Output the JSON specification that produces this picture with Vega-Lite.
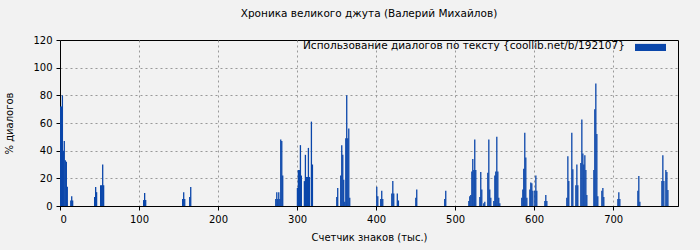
{
  "$schema": "https://vega.github.io/schema/vega-lite/v6.json",
  "autosize": "none",
  "width": 618,
  "height": 166,
  "padding": {"left": 60, "top": 40, "right": 22, "bottom": 44},
  "background": "#f2f2f2",
  "title": {"text": "Хроника великого джута (Валерий Михайлов)", "font": "DejaVu Sans", "fontSize": 10.5, "fontWeight": "normal", "color": "#000000", "offset": 16},
  "config": {
    "view": {"stroke": "#000000", "strokeWidth": 1, "fill": "#f2f2f2"},
    "axis": {"labelFont": "DejaVu Sans", "titleFont": "DejaVu Sans", "labelFontSize": 10, "titleFontSize": 10, "titleFontWeight": "normal", "labelColor": "#000000", "titleColor": "#000000", "domainColor": "#000000", "tickColor": "#000000", "gridColor": "#999999", "gridDash": [2, 3], "gridOpacity": 1}
  },
  "data": {"values": [
    {"k": 0, "p": 72, "s": "Использование диалогов по тексту {coollib.net/b/192107}"},
    {"k": 1, "p": 72, "s": "Использование диалогов по тексту {coollib.net/b/192107}"},
    {"k": 2.2, "p": 80, "s": "Использование диалогов по тексту {coollib.net/b/192107}"},
    {"k": 3.4, "p": 40, "s": "Использование диалогов по тексту {coollib.net/b/192107}"},
    {"k": 4.6, "p": 47, "s": "Использование диалогов по тексту {coollib.net/b/192107}"},
    {"k": 5.9, "p": 33, "s": "Использование диалогов по тексту {coollib.net/b/192107}"},
    {"k": 7.2, "p": 32, "s": "Использование диалогов по тексту {coollib.net/b/192107}"},
    {"k": 8.4, "p": 14, "s": "Использование диалогов по тексту {coollib.net/b/192107}"},
    {"k": 12.8, "p": 4, "s": "Использование диалогов по тексту {coollib.net/b/192107}"},
    {"k": 14, "p": 7, "s": "Использование диалогов по тексту {coollib.net/b/192107}"},
    {"k": 15.2, "p": 4, "s": "Использование диалогов по тексту {coollib.net/b/192107}"},
    {"k": 43, "p": 6.5, "s": "Использование диалогов по тексту {coollib.net/b/192107}"},
    {"k": 44.3, "p": 13.7, "s": "Использование диалогов по тексту {coollib.net/b/192107}"},
    {"k": 45.5, "p": 10, "s": "Использование диалогов по тексту {coollib.net/b/192107}"},
    {"k": 50.6, "p": 15, "s": "Использование диалогов по тексту {coollib.net/b/192107}"},
    {"k": 51.9, "p": 15, "s": "Использование диалогов по тексту {coollib.net/b/192107}"},
    {"k": 53.2, "p": 30, "s": "Использование диалогов по тексту {coollib.net/b/192107}"},
    {"k": 54.4, "p": 15, "s": "Использование диалогов по тексту {coollib.net/b/192107}"},
    {"k": 105, "p": 4.3, "s": "Использование диалогов по тексту {coollib.net/b/192107}"},
    {"k": 106.3, "p": 9.4, "s": "Использование диалогов по тексту {coollib.net/b/192107}"},
    {"k": 107.6, "p": 4.3, "s": "Использование диалогов по тексту {coollib.net/b/192107}"},
    {"k": 154.4, "p": 5, "s": "Использование диалогов по тексту {coollib.net/b/192107}"},
    {"k": 155.7, "p": 10, "s": "Использование диалогов по тексту {coollib.net/b/192107}"},
    {"k": 157, "p": 5, "s": "Использование диалогов по тексту {coollib.net/b/192107}"},
    {"k": 163.3, "p": 6.5, "s": "Использование диалогов по тексту {coollib.net/b/192107}"},
    {"k": 164.6, "p": 13.7, "s": "Использование диалогов по тексту {coollib.net/b/192107}"},
    {"k": 272.2, "p": 5, "s": "Использование диалогов по тексту {coollib.net/b/192107}"},
    {"k": 273.5, "p": 10, "s": "Использование диалогов по тексту {coollib.net/b/192107}"},
    {"k": 274.7, "p": 5, "s": "Использование диалогов по тексту {coollib.net/b/192107}"},
    {"k": 276, "p": 10, "s": "Использование диалогов по тексту {coollib.net/b/192107}"},
    {"k": 277.3, "p": 5, "s": "Использование диалогов по тексту {coollib.net/b/192107}"},
    {"k": 278.5, "p": 48, "s": "Использование диалогов по тексту {coollib.net/b/192107}"},
    {"k": 279.8, "p": 47, "s": "Использование диалогов по тексту {coollib.net/b/192107}"},
    {"k": 281, "p": 22, "s": "Использование диалогов по тексту {coollib.net/b/192107}"},
    {"k": 299.6, "p": 13, "s": "Использование диалогов по тексту {coollib.net/b/192107}"},
    {"k": 300.8, "p": 26, "s": "Использование диалогов по тексту {coollib.net/b/192107}"},
    {"k": 302.1, "p": 26, "s": "Использование диалогов по тексту {coollib.net/b/192107}"},
    {"k": 303.4, "p": 44, "s": "Использование диалогов по тексту {coollib.net/b/192107}"},
    {"k": 304.6, "p": 22, "s": "Использование диалогов по тексту {coollib.net/b/192107}"},
    {"k": 308.4, "p": 18, "s": "Использование диалогов по тексту {coollib.net/b/192107}"},
    {"k": 309.7, "p": 37, "s": "Использование диалогов по тексту {coollib.net/b/192107}"},
    {"k": 311, "p": 21, "s": "Использование диалогов по тексту {coollib.net/b/192107}"},
    {"k": 312.2, "p": 21, "s": "Использование диалогов по тексту {coollib.net/b/192107}"},
    {"k": 313.5, "p": 42, "s": "Использование диалогов по тексту {coollib.net/b/192107}"},
    {"k": 314.8, "p": 21, "s": "Использование диалогов по тексту {coollib.net/b/192107}"},
    {"k": 317.3, "p": 61, "s": "Использование диалогов по тексту {coollib.net/b/192107}"},
    {"k": 318.6, "p": 30, "s": "Использование диалогов по тексту {coollib.net/b/192107}"},
    {"k": 349.4, "p": 6.5, "s": "Использование диалогов по тексту {coollib.net/b/192107}"},
    {"k": 350.6, "p": 13, "s": "Использование диалогов по тексту {coollib.net/b/192107}"},
    {"k": 354.4, "p": 22, "s": "Использование диалогов по тексту {coollib.net/b/192107}"},
    {"k": 355.7, "p": 44, "s": "Использование диалогов по тексту {coollib.net/b/192107}"},
    {"k": 357, "p": 37, "s": "Использование диалогов по тексту {coollib.net/b/192107}"},
    {"k": 358.2, "p": 19, "s": "Использование диалогов по тексту {coollib.net/b/192107}"},
    {"k": 359.5, "p": 3, "s": "Использование диалогов по тексту {coollib.net/b/192107}"},
    {"k": 360.8, "p": 49, "s": "Использование диалогов по тексту {coollib.net/b/192107}"},
    {"k": 362, "p": 80, "s": "Использование диалогов по тексту {coollib.net/b/192107}"},
    {"k": 363.3, "p": 49, "s": "Использование диалогов по тексту {coollib.net/b/192107}"},
    {"k": 364.6, "p": 56, "s": "Использование диалогов по тексту {coollib.net/b/192107}"},
    {"k": 365.8, "p": 6, "s": "Использование диалогов по тексту {coollib.net/b/192107}"},
    {"k": 400, "p": 14, "s": "Использование диалогов по тексту {coollib.net/b/192107}"},
    {"k": 401.3, "p": 7, "s": "Использование диалогов по тексту {coollib.net/b/192107}"},
    {"k": 405, "p": 5, "s": "Использование диалогов по тексту {coollib.net/b/192107}"},
    {"k": 406.3, "p": 11, "s": "Использование диалогов по тексту {coollib.net/b/192107}"},
    {"k": 407.6, "p": 5, "s": "Использование диалогов по тексту {coollib.net/b/192107}"},
    {"k": 419, "p": 9, "s": "Использование диалогов по тексту {coollib.net/b/192107}"},
    {"k": 420.3, "p": 18, "s": "Использование диалогов по тексту {coollib.net/b/192107}"},
    {"k": 421.5, "p": 9, "s": "Использование диалогов по тексту {coollib.net/b/192107}"},
    {"k": 426, "p": 9, "s": "Использование диалогов по тексту {coollib.net/b/192107}"},
    {"k": 427.4, "p": 4, "s": "Использование диалогов по тексту {coollib.net/b/192107}"},
    {"k": 449.4, "p": 6, "s": "Использование диалогов по тексту {coollib.net/b/192107}"},
    {"k": 450.6, "p": 12, "s": "Использование диалогов по тексту {coollib.net/b/192107}"},
    {"k": 486, "p": 5, "s": "Использование диалогов по тексту {coollib.net/b/192107}"},
    {"k": 487.3, "p": 11, "s": "Использование диалогов по тексту {coollib.net/b/192107}"},
    {"k": 516.5, "p": 3.6, "s": "Использование диалогов по тексту {coollib.net/b/192107}"},
    {"k": 517.7, "p": 7, "s": "Использование диалогов по тексту {coollib.net/b/192107}"},
    {"k": 519, "p": 8, "s": "Использование диалогов по тексту {coollib.net/b/192107}"},
    {"k": 520.3, "p": 25, "s": "Использование диалогов по тексту {coollib.net/b/192107}"},
    {"k": 521.5, "p": 34, "s": "Использование диалогов по тексту {coollib.net/b/192107}"},
    {"k": 522.8, "p": 26, "s": "Использование диалогов по тексту {coollib.net/b/192107}"},
    {"k": 524, "p": 48, "s": "Использование диалогов по тексту {coollib.net/b/192107}"},
    {"k": 525.3, "p": 26, "s": "Использование диалогов по тексту {coollib.net/b/192107}"},
    {"k": 530.4, "p": 6.5, "s": "Использование диалогов по тексту {coollib.net/b/192107}"},
    {"k": 531.6, "p": 24.5, "s": "Использование диалогов по тексту {coollib.net/b/192107}"},
    {"k": 532.9, "p": 12, "s": "Использование диалогов по тексту {coollib.net/b/192107}"},
    {"k": 535.4, "p": 2, "s": "Использование диалогов по тексту {coollib.net/b/192107}"},
    {"k": 536.7, "p": 3, "s": "Использование диалогов по тексту {coollib.net/b/192107}"},
    {"k": 540.5, "p": 24, "s": "Использование диалогов по тексту {coollib.net/b/192107}"},
    {"k": 541.8, "p": 48, "s": "Использование диалогов по тексту {coollib.net/b/192107}"},
    {"k": 543, "p": 12, "s": "Использование диалогов по тексту {coollib.net/b/192107}"},
    {"k": 544.3, "p": 6, "s": "Использование диалогов по тексту {coollib.net/b/192107}"},
    {"k": 548.1, "p": 3.6, "s": "Использование диалогов по тексту {coollib.net/b/192107}"},
    {"k": 549.4, "p": 22, "s": "Использование диалогов по тексту {coollib.net/b/192107}"},
    {"k": 550.6, "p": 25, "s": "Использование диалогов по тексту {coollib.net/b/192107}"},
    {"k": 551.9, "p": 50, "s": "Использование диалогов по тексту {coollib.net/b/192107}"},
    {"k": 553.2, "p": 25, "s": "Использование диалогов по тексту {coollib.net/b/192107}"},
    {"k": 554.4, "p": 6, "s": "Использование диалогов по тексту {coollib.net/b/192107}"},
    {"k": 555.7, "p": 2, "s": "Использование диалогов по тексту {coollib.net/b/192107}"},
    {"k": 583.5, "p": 6, "s": "Использование диалогов по тексту {coollib.net/b/192107}"},
    {"k": 584.8, "p": 12, "s": "Использование диалогов по тексту {coollib.net/b/192107}"},
    {"k": 586, "p": 27, "s": "Использование диалогов по тексту {coollib.net/b/192107}"},
    {"k": 587.3, "p": 53, "s": "Использование диалогов по тексту {coollib.net/b/192107}"},
    {"k": 588.6, "p": 35, "s": "Использование диалогов по тексту {coollib.net/b/192107}"},
    {"k": 589.9, "p": 6, "s": "Использование диалогов по тексту {coollib.net/b/192107}"},
    {"k": 593.7, "p": 12, "s": "Использование диалогов по тексту {coollib.net/b/192107}"},
    {"k": 594.9, "p": 17, "s": "Использование диалогов по тексту {coollib.net/b/192107}"},
    {"k": 596.2, "p": 16.5, "s": "Использование диалогов по тексту {coollib.net/b/192107}"},
    {"k": 597.5, "p": 11, "s": "Использование диалогов по тексту {coollib.net/b/192107}"},
    {"k": 600, "p": 11, "s": "Использование диалогов по тексту {coollib.net/b/192107}"},
    {"k": 601.3, "p": 22, "s": "Использование диалогов по тексту {coollib.net/b/192107}"},
    {"k": 602.5, "p": 11, "s": "Использование диалогов по тексту {coollib.net/b/192107}"},
    {"k": 612.7, "p": 3.6, "s": "Использование диалогов по тексту {coollib.net/b/192107}"},
    {"k": 613.9, "p": 8, "s": "Использование диалогов по тексту {coollib.net/b/192107}"},
    {"k": 615.2, "p": 3.6, "s": "Использование диалогов по тексту {coollib.net/b/192107}"},
    {"k": 640.5, "p": 6, "s": "Использование диалогов по тексту {coollib.net/b/192107}"},
    {"k": 641.8, "p": 36, "s": "Использование диалогов по тексту {coollib.net/b/192107}"},
    {"k": 643, "p": 18, "s": "Использование диалогов по тексту {coollib.net/b/192107}"},
    {"k": 646.8, "p": 53, "s": "Использование диалогов по тексту {coollib.net/b/192107}"},
    {"k": 648.1, "p": 26.6, "s": "Использование диалогов по тексту {coollib.net/b/192107}"},
    {"k": 651.9, "p": 15, "s": "Использование диалогов по тексту {coollib.net/b/192107}"},
    {"k": 653.2, "p": 30, "s": "Использование диалогов по тексту {coollib.net/b/192107}"},
    {"k": 654.4, "p": 15, "s": "Использование диалогов по тексту {coollib.net/b/192107}"},
    {"k": 658.2, "p": 31, "s": "Использование диалогов по тексту {coollib.net/b/192107}"},
    {"k": 659.5, "p": 62.6, "s": "Использование диалогов по тексту {coollib.net/b/192107}"},
    {"k": 660.8, "p": 38, "s": "Использование диалогов по тексту {coollib.net/b/192107}"},
    {"k": 662, "p": 30, "s": "Использование диалогов по тексту {coollib.net/b/192107}"},
    {"k": 663.3, "p": 36.7, "s": "Использование диалогов по тексту {coollib.net/b/192107}"},
    {"k": 664.6, "p": 26, "s": "Использование диалогов по тексту {coollib.net/b/192107}"},
    {"k": 665.8, "p": 8, "s": "Использование диалогов по тексту {coollib.net/b/192107}"},
    {"k": 674.7, "p": 26, "s": "Использование диалогов по тексту {coollib.net/b/192107}"},
    {"k": 675.9, "p": 70, "s": "Использование диалогов по тексту {coollib.net/b/192107}"},
    {"k": 677.2, "p": 88.5, "s": "Использование диалогов по тексту {coollib.net/b/192107}"},
    {"k": 678.5, "p": 52, "s": "Использование диалогов по тексту {coollib.net/b/192107}"},
    {"k": 679.7, "p": 7, "s": "Использование диалогов по тексту {coollib.net/b/192107}"},
    {"k": 684.8, "p": 11, "s": "Использование диалогов по тексту {coollib.net/b/192107}"},
    {"k": 686.1, "p": 13, "s": "Использование диалогов по тексту {coollib.net/b/192107}"},
    {"k": 687.3, "p": 6.5, "s": "Использование диалогов по тексту {coollib.net/b/192107}"},
    {"k": 705.1, "p": 5, "s": "Использование диалогов по тексту {coollib.net/b/192107}"},
    {"k": 706.3, "p": 10, "s": "Использование диалогов по тексту {coollib.net/b/192107}"},
    {"k": 707.6, "p": 5, "s": "Использование диалогов по тексту {coollib.net/b/192107}"},
    {"k": 730.4, "p": 11, "s": "Использование диалогов по тексту {coollib.net/b/192107}"},
    {"k": 731.6, "p": 21.6, "s": "Использование диалогов по тексту {coollib.net/b/192107}"},
    {"k": 732.9, "p": 3, "s": "Использование диалогов по тексту {coollib.net/b/192107}"},
    {"k": 760.8, "p": 18, "s": "Использование диалогов по тексту {coollib.net/b/192107}"},
    {"k": 762, "p": 36.7, "s": "Использование диалогов по тексту {coollib.net/b/192107}"},
    {"k": 763.3, "p": 18, "s": "Использование диалогов по тексту {coollib.net/b/192107}"},
    {"k": 765.8, "p": 26, "s": "Использование диалогов по тексту {coollib.net/b/192107}"},
    {"k": 767.1, "p": 24.5, "s": "Использование диалогов по тексту {coollib.net/b/192107}"},
    {"k": 768.4, "p": 11.5, "s": "Использование диалогов по тексту {coollib.net/b/192107}"}
  ]},
  "mark": {"type": "bar", "size": 1.3, "align": "left", "opacity": 1},
  "encoding": {
    "x": {"field": "k", "type": "quantitative", "scale": {"domain": [0, 782], "nice": false, "zero": false, "padding": 0},
      "axis": {"title": "Счетчик знаков (тыс.)", "values": [0, 100, 200, 300, 400, 500, 600, 700], "grid": true, "titlePadding": 8, "labelPadding": 4, "tickSize": 4}},
    "y": {"field": "p", "type": "quantitative", "scale": {"domain": [0, 120], "nice": false, "padding": 0},
      "axis": {"title": "% диалогов", "values": [0, 20, 40, 60, 80, 100, 120], "grid": true, "gridOpacity": {"condition": {"test": "datum.value == 120", "value": 0}, "value": 1}, "titlePadding": 18, "tickSize": 4, "labelPadding": 4}},
    "color": {"field": "s", "type": "nominal", "scale": {"range": ["#0a46aa"]},
      "legend": {"title": "Использование диалогов по тексту {coollib.net/b/192107}", "titleOrient": "left", "titleLimit": 0, "titleFont": "DejaVu Sans", "titleFontSize": 10.5, "titleFontWeight": "normal", "titleColor": "#000000", "titlePadding": 10, "labelExpr": "''", "labelFontSize": 1, "symbolType": "M-1,-0.62H1V-0.16H-1Z", "symbolSize": 961, "symbolStrokeWidth": 0, "symbolOpacity": 1, "orient": "none", "legendX": 243, "legendY": -2, "padding": 0}
    }
  }
}
